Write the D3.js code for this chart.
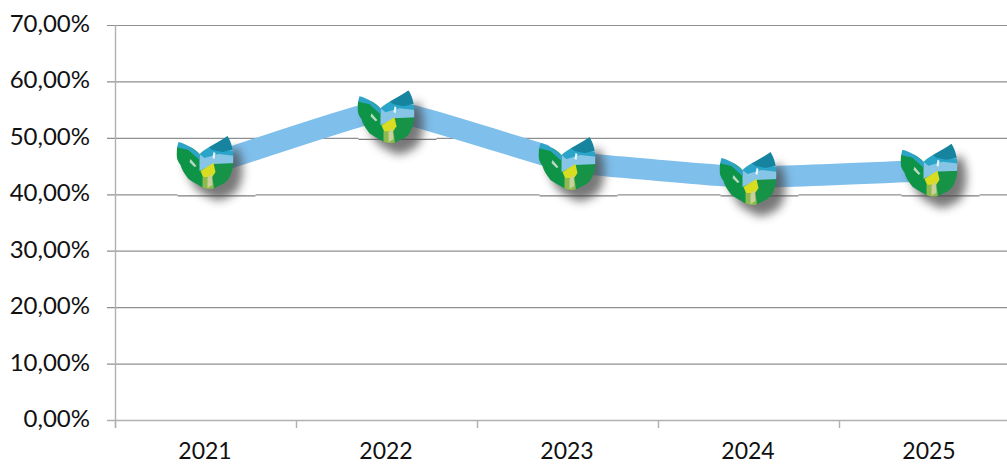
<!DOCTYPE html>
<html><head><meta charset="utf-8">
<script src="https://cdn.jsdelivr.net/npm/d3@7"></script>
<style>html,body{margin:0;padding:0;background:#fff;overflow:hidden}svg{display:block}text{font-family:Lato,sans-serif;fill:#111}</style>
</head><body><svg id="c" width="1007" height="464"></svg>
<script>
const years = ["2021","2022","2023","2024","2025"];
const shares = [45.0, 55.0, 45.8, 43.0, 44.2];
const markerShares = [45.2, 53.3, 45.0, 42.35, 43.8];
const gridBelowMarker = [40, 50, 40, 40, 40];
const yTicks = [0,10,20,30,40,50,60,70];

const svg = d3.select("#c");
const x = d3.scaleBand().domain(years).range([115,1020]);
const y = d3.scaleLinear().domain([0,70]).range([420,25]);
const cx = d => x(d)+x.bandwidth()/2;
const fmt = v => v.toFixed(2).replace(".",",")+"%";
const axisColor = "#b0b0b0";

const defs = svg.append("defs");
const shadow = defs.append("filter").attr("id","shadow").attr("x","-50%").attr("y","-50%").attr("width","200%").attr("height","200%");
shadow.append("feGaussianBlur").attr("stdDeviation",5);
const soft = defs.append("filter").attr("id","soft").attr("x","-10%").attr("y","-10%").attr("width","120%").attr("height","120%");
soft.append("feGaussianBlur").attr("stdDeviation",0.6);

const leafOutline = "M-26,-23 C-21,-22 -10,-17 -5,-11 C1,-17 15,-23 23,-29 C27,-23 29,-14 29,-6 C29,2 27,9 24,14 C21,18 17,20 14,21 C11,23 8,24 5,24 C1,24 -3,22 -6,20 C-10,18 -13,16 -16,14 C-20,9 -23,4 -24,0 C-27,-4 -28,-7 -28,-11 C-28,-16 -27,-20 -26,-23 Z";
defs.append("clipPath").attr("id","leaf").append("path").attr("d",leafOutline);

// gridlines
svg.append("g").selectAll("line").data(yTicks).join("line")
  .attr("x1",107).attr("x2",1007).attr("y1",d=>y(d)+.5).attr("y2",d=>y(d)+.5)
  .attr("stroke",d=>d===0?axisColor:"#8f8f8f").attr("stroke-width",d=>d===0?1.6:1.2);
// y axis line
svg.append("line").attr("x1",115.5).attr("x2",115.5).attr("y1",25).attr("y2",428).attr("stroke",axisColor).attr("stroke-width",1.4);
// x ticks
svg.append("g").selectAll("line").data(d3.range(5)).join("line")
  .attr("x1",i=>x.range()[0]+i*x.step()+.5).attr("x2",i=>x.range()[0]+i*x.step()+.5)
  .attr("y1",420).attr("y2",428).attr("stroke",axisColor).attr("stroke-width",1.4);

// y labels
svg.append("g").selectAll("text").data(yTicks).join("text")
  .attr("x",90).attr("y",d=>y(d)+7).attr("text-anchor","end").attr("font-size",24).text(fmt);
// x labels
svg.append("g").selectAll("text").data(years).join("text")
  .attr("x",d=>cx(d)-.5).attr("y",459).attr("text-anchor","middle").attr("font-size",23).text(d=>d);

// marker picture's own slightly offset gridline piece
const patches = svg.append("g").selectAll("g").data(gridBelowMarker).join("g")
  .attr("transform",(t,i)=>`translate(${cx(years[i])},${y(t)})`);
patches.append("rect").attr("x",-28).attr("width",78).attr("y",-1).attr("height",3).attr("fill","#fff");
patches.append("line").attr("x1",-28).attr("x2",50).attr("y1",1.5).attr("y2",1.5).attr("stroke","#7d7d7d").attr("stroke-width",1.2);

// series line (slightly smoothed)
const line = d3.line().x((d,i)=>cx(years[i])).y(d=>y(d)).curve(d3.curveCardinal.tension(0.75));
svg.append("path").attr("d",line(shares)).attr("fill","none").attr("stroke","#7fbfec").attr("stroke-width",21.5);

// markers
const m = svg.append("g").selectAll("g").data(markerShares).join("g")
  .attr("transform",(d,i)=>`translate(${cx(years[i])-1},${y(d)})`);
m.append("path").attr("d",leafOutline).attr("transform","translate(9,11)").attr("fill","#444").attr("opacity",.72).attr("filter","url(#shadow)");
m.append("path").attr("d","M-18,-21 L14,-23 L-4,-4 Z").attr("fill","#fff");
const body = m.append("g").attr("clip-path","url(#leaf)").append("g").attr("filter","url(#soft)");
const pieces = [
  ["M-34,-34 H36 V32 H-34 Z","#0f9446"],
  ["M-5,-11 L7,-20 L23,-30 L32,-6 L32,-1 L10,-1 L-5,6 Z","#86c5e6"],
  ["M-30,-25 L-22,-24 L-5,-11 L-5,-5 L-16,-15 L-29,-18 Z","#2ea3c8"],
  ["M-5,-11 L7,-20 L14,-15 L32,-14 L32,-9 L14,-11 L0,-7 Z","#2aa5c9"],
  ["M4,-18 L23,-31 L32,-16 L18,-13 L8,-15 Z","#14839f"],
  ["M8,-1 L32,-2 L32,30 L8,30 Z","#149346"],
  ["M-4,6 L9,-2 L11,7 L7,13 L-1,13 Z","#d9dd20"],
  ["M-2,12 L8,12 L10,28 L-2,28 Z","#8db94d"],
  ["M3,13 L7,9 L8,20 L3,23 Z","#c8cfa0"],
  ["M-14,-6 L-8,1 L-10,2 L-15,-3 Z","#b9d9c4"],
  ["M9,-13 L11,-12 L10,-6 L8,-7 Z","#e8f6fb"]
];
pieces.forEach(([d,color]) => body.append("path").attr("d",d).attr("fill",color));
</script></body></html>
